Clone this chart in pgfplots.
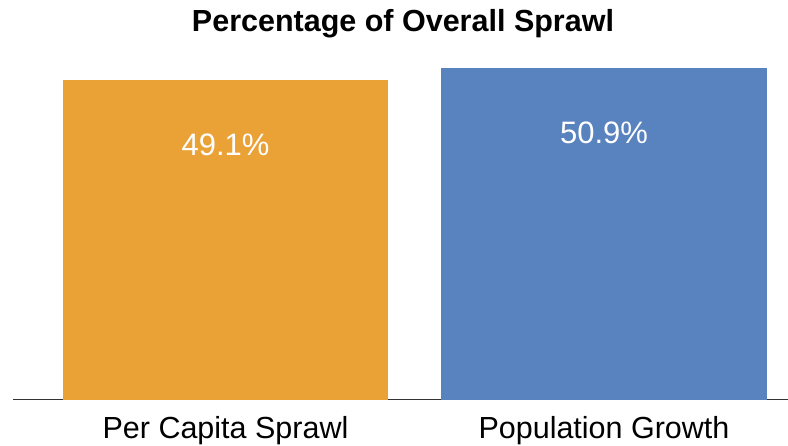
\documentclass[border=0pt]{standalone}
\usepackage{pgfplots}
\pgfplotsset{compat=1.18}
\usepackage{fontspec}
\setmainfont{Liberation Sans}
\definecolor{barorange}{RGB}{234,162,55}
\definecolor{barblue}{RGB}{89,131,190}
\begin{document}
\begin{tikzpicture}
\useasboundingbox (-13pt,-46pt) rectangle (775pt,400pt);
\begin{axis}[
 scale only axis, width=775pt, height=340pt,
 xmin=-0.5614, xmax=1.4861, ymin=0, ymax=52.2,
 axis x line=bottom, axis y line=none,
 axis line style={-, line width=1pt, black!80},
 xtick={0,1}, xticklabels={Per Capita Sprawl, Population Growth},
 major tick length=0pt,
 xticklabel style={font=\fontsize{30.5}{36}\selectfont, anchor=base, yshift=-39pt},
 ytick=\empty,
 title={\bfseries Percentage of Overall Sprawl},
 title style={font=\fontsize{30.5}{36}\selectfont, at={(0.5,1)}, anchor=base, yshift=22pt, xshift=2.5pt},
 ybar, bar width=0.8587, bar shift=0pt,
 point meta=y,
 nodes near coords={\pgfmathprintnumber[fixed,precision=1,fixed zerofill]{\pgfplotspointmeta}\%},
 /pgf/number format/assume math mode=true,
 every node near coord/.append style={white, font=\fontsize{31}{36}\selectfont, anchor=base, yshift=-75pt},
 clip=false,
]
\addplot[fill=barorange, draw=none] coordinates {(0,49.1)};
\addplot[fill=barblue, draw=none] coordinates {(1,50.9)};
\end{axis}
\end{tikzpicture}
\end{document}
